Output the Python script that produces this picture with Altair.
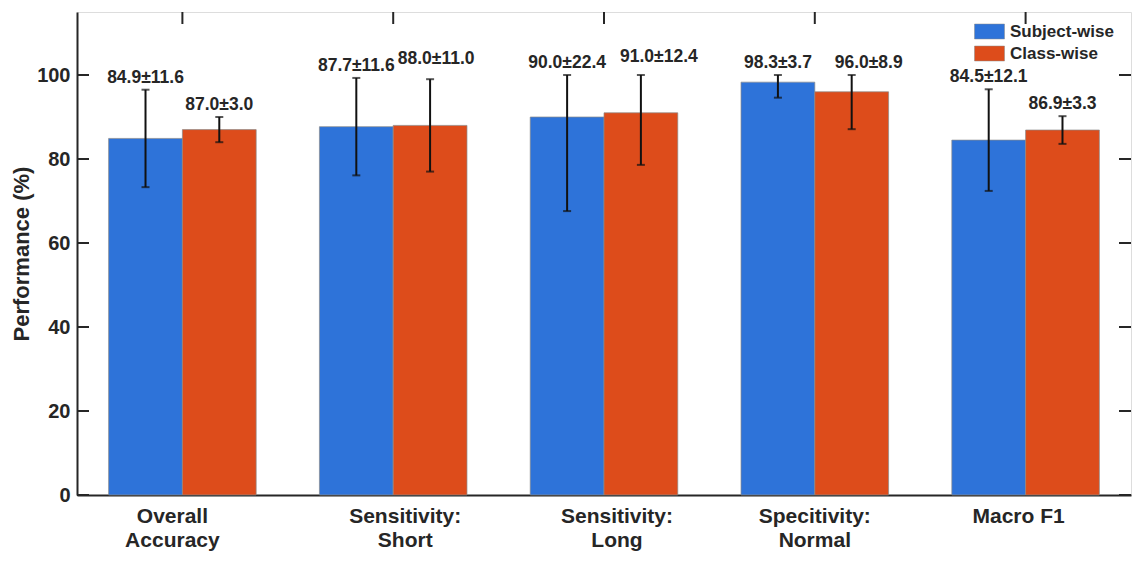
import altair as alt
import pandas as pd

categories = ["Overall|Accuracy", "Sensitivity:|Short", "Sensitivity:|Long",
              "Specitivity:|Normal", "Macro F1"]
series = ["Subject-wise", "Class-wise"]
subject_mean = [84.9, 87.7, 90.0, 98.3, 84.5]
subject_sd = [11.6, 11.6, 22.4, 3.7, 12.1]
class_mean = [87.0, 88.0, 91.0, 96.0, 86.9]
class_sd = [3.0, 11.0, 12.4, 8.9, 3.3]
yticks = [0, 20, 40, 60, 80, 100]
colors = ["#2E73D9", "#DD4C1B"]

rows = []
for i, c in enumerate(categories):
    rows.append({"cat": c, "series": series[0], "mean": subject_mean[i], "sd": subject_sd[i], "k": f"{i}s"})
    rows.append({"cat": c, "series": series[1], "mean": class_mean[i], "sd": class_sd[i], "k": f"{i}c"})
df = pd.DataFrame(rows)
ticks_df = pd.DataFrame({"v": yticks})
cats_df = pd.DataFrame({"cat": categories})

W, H = 1054, 483
FONT = "Liberation Sans"
TXT = "#262626"

# horizontal nudges of the category tick labels (style only)
label_nudge = {categories[0]: -10, categories[1]: 12, categories[2]: 13, categories[4]: -7}
label_offset = {
    "condition": [{"test": f"datum.value === '{c}'", "value": v} for c, v in label_nudge.items()],
    "value": 0,
}

xscale = alt.Scale(domain=categories, paddingInner=0.3, paddingOuter=0.15)
yscale = alt.Scale(domain=[0, 115], nice=False)

x = alt.X("cat:N", scale=xscale, sort=categories, title=None,
          axis=alt.Axis(labelExpr="split(datum.label, '|')", labelAngle=0,
                        ticks=False, tickSize=0, labelPadding=10,
                        labelOffset=label_offset,
                        labelFontSize=21, labelFontWeight="bold",
                        labelLineHeight=24, labelColor=TXT, labelFont=FONT,
                        domainColor=TXT, domainWidth=2, labelBaseline="top"))
y = alt.Y("mean:Q", scale=yscale, title="Performance (%)",
          axis=alt.Axis(values=yticks, ticks=False, tickSize=0, labelPadding=7,
                        labelFontSize=20, labelFontWeight="bold", labelColor=TXT,
                        labelFont=FONT, domainColor=TXT, domainWidth=2, grid=False,
                        titleFontSize=22, titleFontWeight="bold", titleColor=TXT,
                        titleFont=FONT, titlePadding=3))
xoff = alt.XOffset("series:N", sort=series, scale=alt.Scale(domain=series, paddingInner=0))
color = alt.Color("series:N", sort=series,
                  scale=alt.Scale(domain=series, range=colors),
                  legend=alt.Legend(title=None, orient="none", legendX=904, legendY=11,
                                    padding=0, symbolType="M-2,-1H2V1H-2Z", symbolSize=225,
                                    symbolStrokeWidth=0.5, symbolStrokeColor="#888",
                                    labelFontSize=17, labelFontWeight="bold",
                                    labelColor=TXT, labelFont=FONT, labelOffset=12,
                                    rowPadding=4))

base = alt.Chart(df).transform_calculate(
    hi="min(datum.mean + datum.sd, 100)",
    lo="datum.mean - datum.sd",
    lab="format(datum.mean, '.1f') + '±' + format(datum.sd, '.1f')",
)

bars = base.mark_bar(stroke="#8a8a8a", strokeWidth=0.7).encode(x=x, y=y, xOffset=xoff, color=color)
err = base.mark_rule(color="#111", strokeWidth=2).encode(
    x=alt.X("cat:N"), xOffset="series:N", y="lo:Q", y2="hi:Q")
cap_hi = base.mark_tick(color="#111", thickness=2, size=8).encode(
    x=alt.X("cat:N"), xOffset="series:N", y="hi:Q")
cap_lo = base.mark_tick(color="#111", thickness=2, size=8).encode(
    x=alt.X("cat:N"), xOffset="series:N", y="lo:Q")

# value labels; a few are nudged aside so that neighbours do not collide
nudged = {"1c": (6, -20), "2c": (18, -18), "3c": (17, -12)}


def value_text(test, dx, dy):
    return base.transform_filter(test).mark_text(
        fontSize=17.5, fontWeight="bold", font=FONT, color=TXT,
        baseline="middle", dx=dx, dy=dy).encode(
        x=alt.X("cat:N"), xOffset="series:N", y="hi:Q", text="lab:N")


keys = ",".join(f"'{k}'" for k in nudged)
txt_layers = [value_text(f"indexof([{keys}], datum.k) < 0", 0, -12)]
for k, (dx, dy) in nudged.items():
    txt_layers.append(value_text(f"datum.k === '{k}'", dx, dy))

lt = alt.Chart(ticks_df).mark_rule(color=TXT, strokeWidth=2).encode(
    y=alt.Y("v:Q"), x=alt.value(0), x2=alt.value(12))
rt = alt.Chart(ticks_df).mark_rule(color=TXT, strokeWidth=2).encode(
    y=alt.Y("v:Q"), x=alt.value(W - 12), x2=alt.value(W))
tt = alt.Chart(cats_df).mark_rule(color=TXT, strokeWidth=2).encode(
    x=alt.X("cat:N"), y=alt.value(0), y2=alt.value(12))

chart = alt.layer(bars, err, cap_hi, cap_lo, *txt_layers, lt, rt, tt).properties(
    width=W, height=H,
    autosize=alt.AutoSizeParams(type="none"),
    padding={"left": 69, "top": 4, "right": 4, "bottom": 60},
).configure_view(stroke=TXT, strokeWidth=2).configure(background="white")

chart.save("out.html", embed_options={"renderer": "svg", "actions": False})
